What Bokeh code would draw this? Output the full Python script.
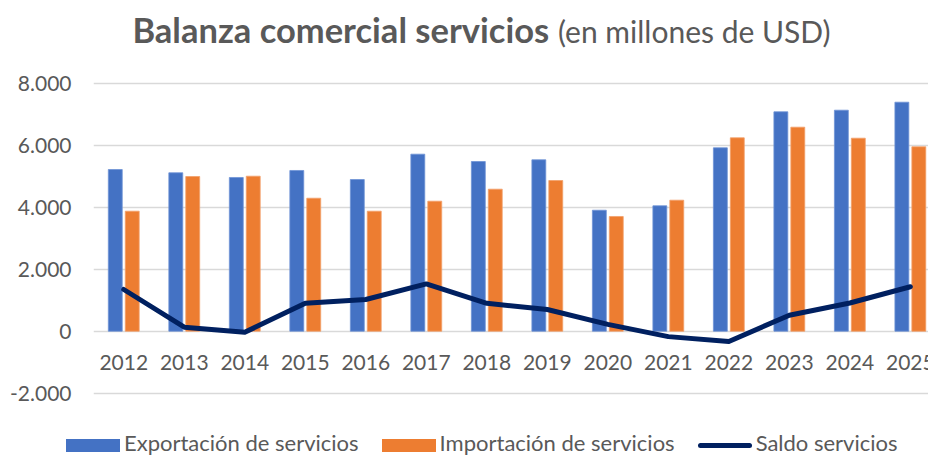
from bokeh.plotting import figure
from bokeh.models import Range1d, FixedTicker, ColumnDataSource, Div
from bokeh.layouts import column
from bokeh.core.properties import value
from bokeh.embed import file_html
from bokeh.resources import INLINE

years = ["2012", "2013", "2014", "2015", "2016", "2017", "2018", "2019",
         "2020", "2021", "2022", "2023", "2024", "2025"]
exportacion = [5216, 5110, 4958, 5184, 4893, 5710, 5474, 5529, 3903, 4045, 5916, 7077, 7129, 7387]
importacion = [3871, 4990, 5000, 4290, 3871, 4194, 4581, 4861, 3700, 4226, 6238, 6581, 6226, 5948]
saldo = [1345, 129, -35, 905, 1022, 1525, 900, 700, 220, -175, -330, 515, 910, 1435]
y_ticks = [-2000, 0, 2000, 4000, 6000, 8000]
y_tick_labels = ["-2.000", "0", "2.000", "4.000", "6.000", "8.000"]
series_names = ["Exportación de servicios", "Importación de servicios", "Saldo servicios"]

FONT = "Lato"
GREY = "#595959"
BLUE = "#4472C4"
ORANGE = "#ED7D31"
NAVY = "#002060"

idx = list(range(len(years)))
src = ColumnDataSource(dict(
    x=idx,
    xe=[i - 0.14 for i in idx],
    xi=[i + 0.14 for i in idx],
    exp=exportacion, imp=importacion, sal=saldo, yr=years,
    zero=[0] * len(years),
))

title = Div(
    text=('<div style="width:928px;text-align:center;padding-left:35px;box-sizing:border-box;'
          'font-family:Lato;color:#595959;font-size:34.5px;line-height:60px;white-space:nowrap;">'
          '<b>Balanza comercial servicios</b> <span style="font-size:30px">(en millones de USD)</span></div>'),
    width=928, height=62, margin=(0, 0, 0, 0),
)

p = figure(width=928, height=363, output_backend="svg", toolbar_location=None,
           x_range=Range1d(-0.5, 13.3), y_range=Range1d(-3042, 8087),
           min_border_left=93, min_border_right=0, min_border_top=18, min_border_bottom=0,
           margin=(0, 0, 0, 0))
p.outline_line_color = None
p.background_fill_color = "white"

p.xaxis.visible = False
p.xgrid.visible = False
p.ygrid.ticker = FixedTicker(ticks=y_ticks)
p.ygrid.grid_line_color = "#d9d9d9"
p.ygrid.grid_line_width = 1.5

p.yaxis.ticker = FixedTicker(ticks=y_ticks)
p.yaxis.major_label_overrides = {t: l for t, l in zip(y_ticks, y_tick_labels)}
p.yaxis.axis_line_color = None
p.yaxis.major_tick_line_color = None
p.yaxis.minor_tick_line_color = None
p.yaxis.major_label_standoff = 16
p.yaxis.major_label_text_font = FONT
p.yaxis.major_label_text_font_size = "21px"
p.yaxis.major_label_text_color = GREY

p.vbar(x="xe", top="exp", width=0.23, source=src, fill_color=BLUE, line_color="#6f93d6", line_width=0.8)
p.vbar(x="xi", top="imp", width=0.23, source=src, fill_color=ORANGE, line_color="#f3a06a", line_width=0.8)
p.line(x="x", y="sal", source=src, line_color=NAVY, line_width=5, line_join="round", line_cap="round")

p.text(x="x", y="zero", text="yr", source=src, y_offset=31, text_align="center", text_baseline="middle",
       text_font=value(FONT), text_font_size="21px", text_color=GREY)

# legend row
def swatch(color, h, first):
    ml = "0" if first else "23px"
    radius = "3px" if h < 8 else "0"
    return (f'<span style="display:inline-block;width:54px;height:{h}px;background:{color};'
            f'border-radius:{radius};vertical-align:middle;margin-left:{ml};margin-right:4px;"></span>')

legend_html = (
    '<div style="padding-left:66px;padding-top:3px;line-height:30px;font-family:Lato;font-size:22px;'
    'color:#595959;white-space:nowrap;">'
    + swatch(BLUE, 13, True) + f'<span>{series_names[0]}</span>'
    + swatch(ORANGE, 13, False) + f'<span>{series_names[1]}</span>'
    + swatch(NAVY, 5, False) + f'<span>{series_names[2]}</span>'
    + '</div>'
)
legend_div = Div(text=legend_html, width=928, height=30, margin=(0, 0, 0, 0))

layout = column(title, p, legend_div, spacing=0)
open("out.html", "w").write(file_html(layout, INLINE))
